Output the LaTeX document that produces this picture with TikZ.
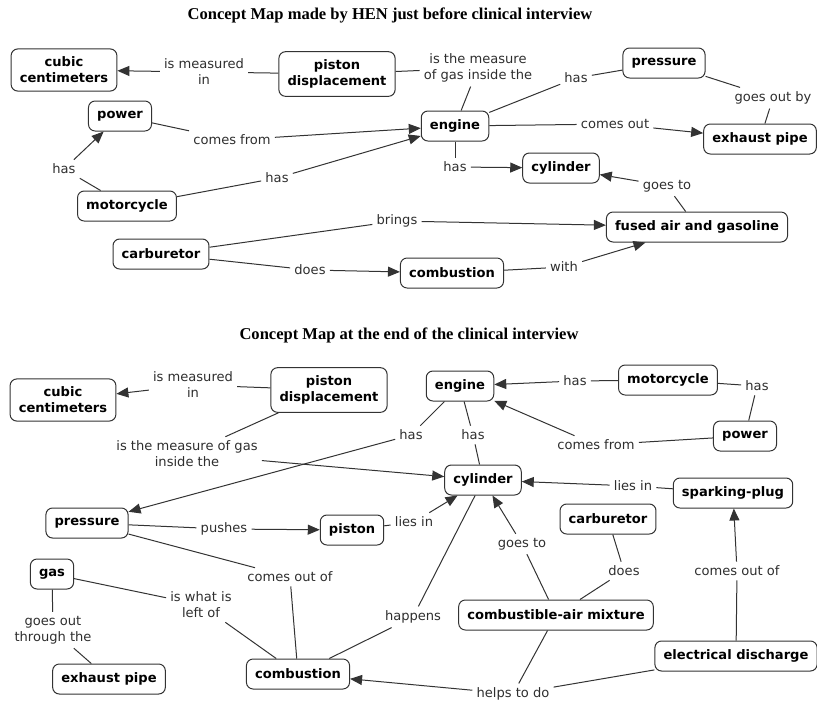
\documentclass[tikz,border=0pt]{standalone}
\usepackage{fontspec}
\setmainfont{DejaVu Sans}
\newfontfamily\titlefont{Liberation Serif}
\usetikzlibrary{arrows.meta}
\definecolor{linec}{HTML}{333333}
\definecolor{txtc}{HTML}{2E2E2E}
\begin{document}
\begin{tikzpicture}[x=0.75pt,y=-0.75pt,
 concept/.style={draw=linec, line width=0.75pt, rounded corners=5pt, font=\fontsize{9.8}{12}\selectfont\bfseries, align=center, inner xsep=6.5pt, inner ysep=6pt, minimum height=22.5pt, text=black},
 lbl/.style={font=\fontsize{9.8}{12}\selectfont, text=txtc, align=center, inner sep=3pt},
 conn/.style={draw=linec, line width=0.75pt},
 arr/.style={conn, -{Triangle[length=9pt,width=7.5pt]}},
 title/.style={font=\titlefont\bfseries\fontsize{12.4}{14}\selectfont}
]
\useasboundingbox (0,0) rectangle (817,704);

% ---------- top map ----------
\node[title] (t1) at (390,15) {Concept Map made by HEN just before clinical interview};
\node[concept] (acc) at (64,70) {cubic\\centimeters};
\node[concept] (apd) at (337,74) {piston\\displacement};
\node[concept] (apow) at (120,116) {power};
\node[concept] (aeng) at (455,126) {engine};
\node[concept] (apre) at (664,63) {pressure};
\node[concept] (aexh) at (760,139) {exhaust pipe};
\node[concept] (acyl) at (561,168) {cylinder};
\node[concept] (amot) at (127,206) {motorcycle};
\node[concept] (acar) at (161,254) {carburetor};
\node[concept] (afus) at (697,227) {fused air and gasoline};
\node[concept] (acom) at (452,273) {combustion};

\node[lbl] (l1) at (204,72) {is measured\\in};
\node[lbl] (l2) at (478,68) {is the measure\\of gas inside the};
\node[lbl] (l3) at (576,78) {has};
\node[lbl] (l4) at (773,98) {goes out by};
\node[lbl] (l5) at (615,124) {comes out};
\node[lbl] (l6) at (232,140) {comes from};
\node[lbl] (l7) at (64,169) {has};
\node[lbl] (l8) at (277,178) {has};
\node[lbl] (l9) at (455,167) {has};
\node[lbl] (l10) at (667,186) {goes to};
\node[lbl] (l11) at (397,221) {brings};
\node[lbl] (l12) at (310,270) {does};
\node[lbl] (l13) at (564,267) {with};

\draw[conn] (apd) -- (l1); \draw[arr] (l1) -- (acc);
\draw[conn] (apd) -- (l2); \draw[conn] (l2) -- (aeng);
\draw[conn] (aeng) -- (l3); \draw[conn] (l3) -- (apre);
\draw[conn] (apre) -- (l4); \draw[conn] (l4) -- (aexh);
\draw[conn] (aeng) -- (l5); \draw[arr] (l5) -- (aexh);
\draw[conn] (apow) -- (l6); \draw[arr] (l6) -- (aeng);
\draw[conn] (amot) -- (l7); \draw[arr] (l7) -- (apow);
\draw[conn] (amot) -- (l8); \draw[arr] (l8) -- (aeng);
\draw[conn] (aeng) -- (l9); \draw[arr] (l9) -- (acyl);
\draw[conn] (afus) -- (l10); \draw[arr] (l10) -- (acyl);
\draw[conn] (acar) -- (l11); \draw[arr] (l11) -- (afus);
\draw[conn] (acar) -- (l12); \draw[arr] (l12) -- (acom);
\draw[conn] (acom) -- (l13); \draw[arr] (l13) -- (afus);

% ---------- bottom map ----------
\node[title] (t2) at (409,335) {Concept Map at the end of the clinical interview};
\node[concept] (bcc) at (63,400) {cubic\\centimeters};
\node[concept] (bpd) at (329,390) {piston\\displacement};
\node[concept] (beng) at (460,386) {engine};
\node[concept] (bmot) at (668,380) {motorcycle};
\node[concept] (bpow) at (745,436) {power};
\node[concept] (bcyl) at (483,480) {cylinder};
\node[concept] (bsp) at (733,493) {sparking-plug};
\node[concept] (bpre) at (87,523) {pressure};
\node[concept] (bpis) at (352,530) {piston};
\node[concept] (bcar) at (608,519) {carburetor};
\node[concept] (bgas) at (52,574) {gas};
\node[concept] (bmix) at (556,615) {combustible-air mixture};
\node[concept] (bel) at (736,656) {electrical discharge};
\node[concept] (bexh) at (109,679) {exhaust pipe};
\node[concept] (bcom) at (298,674) {combustion};

\node[lbl] (m1) at (193,385) {is measured\\in};
\node[lbl] (m2) at (187,454) {is the measure of gas\\inside the};
\node[lbl] (m3) at (411,435) {has};
\node[lbl] (m4) at (473,435) {has};
\node[lbl] (m5) at (575,381) {has};
\node[lbl] (m6) at (757,386) {has};
\node[lbl] (m7) at (596,445) {comes from};
\node[lbl] (m8) at (633,486) {lies in};
\node[lbl] (m9) at (224,529) {pushes};
\node[lbl] (m10) at (414,522) {lies in};
\node[lbl] (m11) at (522,544) {goes to};
\node[lbl] (m12) at (624,571) {does};
\node[lbl] (m13) at (737,571) {comes out of};
\node[lbl] (m14) at (290,577) {comes out of};
\node[lbl] (m15) at (201,605) {is what is\\left of};
\node[lbl] (m16) at (53,630) {goes out\\through the};
\node[lbl] (m17) at (413,617) {happens};
\node[lbl] (m18) at (513,694) {helps to do};

\draw[conn] (bpd) -- (m1); \draw[arr] (m1) -- (bcc);
\draw[conn] (bpd) -- (m2); \draw[arr] (m2) -- (bcyl);
\draw[conn] (beng) -- (m3); \draw[arr] (m3) -- (bpre);
\draw[conn] (beng) -- (m4); \draw[conn] (m4) -- (bcyl);
\draw[conn] (bmot) -- (m5); \draw[arr] (m5) -- (beng);
\draw[conn] (bmot) -- (m6); \draw[conn] (m6) -- (bpow);
\draw[conn] (bpow) -- (m7); \draw[arr] (m7) -- (beng);
\draw[conn] (bsp) -- (m8); \draw[arr] (m8) -- (bcyl);
\draw[conn] (bpre) -- (m9); \draw[arr] (m9) -- (bpis);
\draw[conn] (bpis) -- (m10); \draw[arr] (m10) -- (bcyl);
\draw[conn] (bmix) -- (m11); \draw[arr] (m11) -- (bcyl);
\draw[conn] (bcar) -- (m12); \draw[conn] (m12) -- (bmix);
\draw[conn] (bel) -- (m13); \draw[arr] (m13) -- (bsp);
\draw[conn] (bpre) -- (m14); \draw[conn] (m14) -- (bcom);
\draw[conn] (bgas) -- (m15); \draw[conn] (m15) -- (bcom);
\draw[conn] (bgas) -- (m16); \draw[conn] (m16) -- (bexh);
\draw[conn] (bcom) -- (m17); \draw[conn] (m17) -- (bcyl);
\draw[conn] (bmix) -- (m18); \draw[conn] (bel) -- (m18); \draw[arr] (m18) -- (bcom);
\end{tikzpicture}
\end{document}
